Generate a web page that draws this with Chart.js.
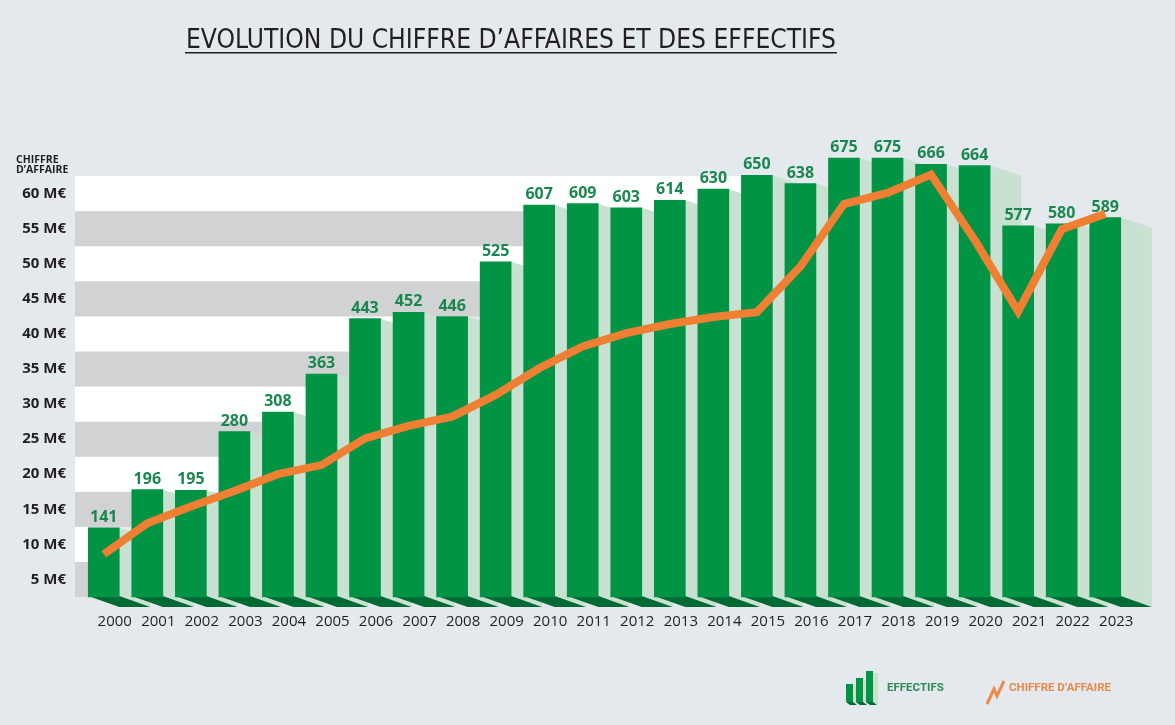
<!DOCTYPE html>
<html>
<head>
<meta charset="utf-8">
<script src="https://cdn.jsdelivr.net/npm/chart.js@4.4.1/dist/chart.umd.min.js"></script>
<style>
  html, body { margin: 0; padding: 0; background: #e3e9ec; }
  #wrap { width: 1175px; height: 725px; }
</style>
</head>
<body>
<div id="wrap"><canvas id="chart" width="1175" height="725"></canvas></div>
<script>
// ---- data ----
const years = ["2000","2001","2002","2003","2004","2005","2006","2007","2008","2009","2010","2011",
               "2012","2013","2014","2015","2016","2017","2018","2019","2020","2021","2022","2023"];
const effectifs = [141,196,195,280,308,363,443,452,446,525,607,609,603,614,630,650,638,675,675,666,664,577,580,589];
const chiffreAffaires = [8.6,13.0,15.4,17.6,20.0,21.3,25.1,26.9,28.2,31.3,35.1,38.2,
                         40.1,41.4,42.4,43.1,49.6,58.5,60.1,62.7,53.4,43.2,54.9,57.1];
const caTicks = [5,10,15,20,25,30,35,40,45,50,55,60];

const GREEN = "#009444";
const SHADOW = "#c8e1d1";
const FLOOR = "#006a34";
const ORANGE = "#ee7f33";
const DEPTH_X = 31, DEPTH_Y = 10;
const EFF_MIN = 41, EFF_MAX = 649;

// bands, bar shadows and floors behind the bars
const decor3d = {
  id: "decor3d",
  beforeDatasetsDraw(chart) {
    const ctx = chart.ctx;
    const yCA = chart.scales.y;
    const bars = chart.getDatasetMeta(0).data;
    const last = bars[bars.length - 1];
    ctx.save();
    caTicks.forEach(v => {
      const top = yCA.getPixelForValue(v + 2.5);
      const bottom = yCA.getPixelForValue(v - 2.5);
      let end = last.x + last.width / 2 + DEPTH_X;
      for (const b of bars) {
        if (b.y <= top + 2) { end = b.x - b.width / 2; break; }
      }
      ctx.fillStyle = (v / 5) % 2 ? "#d1d2d4" : "#ffffff";
      const left = chart.chartArea.left - 7;
      ctx.fillRect(left, top, end - left, bottom - top);
    });
    bars.forEach(b => {
      const l = b.x - b.width / 2, r = b.x + b.width / 2;
      ctx.fillStyle = SHADOW;
      ctx.beginPath();
      ctx.moveTo(r, b.y);
      ctx.lineTo(r + DEPTH_X, b.y + DEPTH_Y);
      ctx.lineTo(r + DEPTH_X, b.base + DEPTH_Y);
      ctx.lineTo(r, b.base);
      ctx.closePath();
      ctx.fill();
      ctx.fillStyle = FLOOR;
      ctx.beginPath();
      ctx.moveTo(l, b.base - 1);
      ctx.lineTo(r, b.base - 1);
      ctx.lineTo(r + DEPTH_X, b.base + DEPTH_Y);
      ctx.lineTo(l + DEPTH_X, b.base + DEPTH_Y);
      ctx.closePath();
      ctx.fill();
    });
    ctx.restore();
  }
};

// value labels above the bars (under the line)
const barLabels = {
  id: "barLabels",
  afterDatasetDraw(chart, args) {
    if (args.index !== 0) return;
    const ctx = chart.ctx;
    ctx.save();
    ctx.font = "bold 16px 'Open Sans'";
    ctx.fillStyle = "#1a884e";
    ctx.textAlign = "center";
    ctx.textBaseline = "alphabetic";
    args.meta.data.forEach((b, i) => {
      ctx.fillText(String(effectifs[i]), b.x, b.y - 6);
    });
    ctx.restore();
  }
};

// title, axis caption and legend
const extras = {
  id: "extras",
  afterDraw(chart) {
    const ctx = chart.ctx;
    ctx.save();
    // title
    const title = "EVOLUTION DU CHIFFRE D\u2019AFFAIRES ET DES EFFECTIFS";
    ctx.font = "27px 'Liberation Sans Narrow', 'DejaVu Sans Condensed', Roboto, sans-serif";
    ctx.fillStyle = "#231f20";
    ctx.textBaseline = "alphabetic";
    const w = ctx.measureText(title).width;
    const sx = Math.min(1, 650 / w);
    ctx.save();
    ctx.translate(186, 48);
    ctx.scale(sx, 1);
    ctx.fillText(title, 0, 0);
    ctx.restore();
    ctx.fillRect(185, 52, 652, 1.5);

    // axis caption
    ctx.font = "bold 10.5px 'Open Sans'";
    ctx.fillText("CHIFFRE", 16, 163);
    ctx.fillText("D\u2019AFFAIRE", 16, 173);

    // legend: effectifs
    const base = 702;
    [[846, 18], [856, 24], [866, 31]].forEach(([x, h]) => {
      ctx.fillStyle = SHADOW;
      ctx.fillRect(x + 7, base - h + 2, 5, h);
    });
    [[846, 18], [856, 24], [866, 31]].forEach(([x, h]) => {
      ctx.fillStyle = FLOOR;
      ctx.beginPath();
      ctx.moveTo(x, base); ctx.lineTo(x + 7, base);
      ctx.lineTo(x + 11, base + 3); ctx.lineTo(x + 4, base + 3);
      ctx.closePath(); ctx.fill();
      ctx.fillStyle = GREEN;
      ctx.fillRect(x, base - h, 7, h);
    });
    ctx.font = "bold 11.5px Roboto";
    ctx.textBaseline = "middle";
    ctx.fillStyle = "#2e8a56";
    ctx.fillText("EFFECTIFS", 887, 688);

    // legend: chiffre d'affaire
    ctx.strokeStyle = "#e98a4c";
    ctx.lineWidth = 3;
    ctx.beginPath();
    ctx.moveTo(987, 704); ctx.lineTo(994, 689); ctx.lineTo(997, 696); ctx.lineTo(1004, 681);
    ctx.stroke();
    ctx.fillStyle = "#e98a4c";
    ctx.fillText("CHIFFRE D\u2019AFFAIRE", 1009, 688);
    ctx.restore();
  }
};

new Chart(document.getElementById("chart"), {
  data: {
    labels: years,
    datasets: [
      {
        type: "bar",
        label: "Effectifs",
        data: effectifs,
        yAxisID: "yEff",
        base: EFF_MIN,
        backgroundColor: GREEN,
        barThickness: 31,
        clip: false,
        order: 1
      },
      {
        type: "line",
        label: "Chiffre d'affaire",
        data: chiffreAffaires,
        yAxisID: "y",
        borderColor: ORANGE,
        borderWidth: 8,
        pointRadius: 0,
        tension: 0,
        borderJoinStyle: "miter",
        clip: false,
        order: 0
      }
    ]
  },
  options: {
    responsive: false,
    animation: false,
    events: [],
    layout: { padding: { left: 0, right: 48, top: 176, bottom: 88 } },
    plugins: { legend: { display: false }, tooltip: { enabled: false }, title: { display: false } },
    scales: {
      x: {
        grid: { display: false, drawTicks: false },
        border: { display: false },
        ticks: { padding: 16, labelOffset: 11, color: "#231f20", font: { family: "'Open Sans'", size: 15 } },
        afterFit(scale) { scale.height = 40; }
      },
      y: {
        position: "left",
        min: 2.5,
        max: 62.5,
        afterBuildTicks(scale) { scale.ticks = caTicks.map(v => ({ value: v })); },
        grid: { display: false, drawTicks: false },
        border: { display: false },
        ticks: {
          padding: 16,
          color: "#231f20",
          font: { family: "'Open Sans'", size: 15, weight: "bold" },
          callback: v => v + " M\u20ac"
        },
        afterFit(scale) { scale.width = 82; }
      },
      yEff: {
        display: false,
        min: EFF_MIN,
        max: EFF_MAX
      }
    }
  },
  plugins: [decor3d, barLabels, extras]
});
</script>
</body>
</html>
